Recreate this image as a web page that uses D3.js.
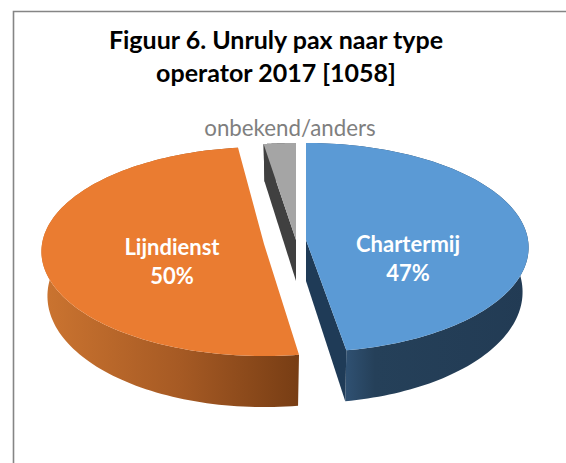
<!DOCTYPE html>
<html><head><meta charset="utf-8">
<script src="https://cdn.jsdelivr.net/npm/d3@7/dist/d3.min.js"></script>
<style>html,body{margin:0;padding:0;background:#fff}svg{display:block}</style>
</head><body><svg id="c" width="566" height="463"></svg>
<script>
const categories = ["Chartermij", "Lijndienst", "onbekend/anders"];
const values = [47.3, 50.2, 2.5];
const percentLabels = ["47%", "50%", ""];
const titleLines = ["Figuur 6. Unruly pax naar type", "operator 2017 [1058]"];

const topColors = ["#5b9ad5", "#ea7c31", "#a5a5a5"];
const centers = [[306, 240], [264, 244], [296, 240]];
const trimDeg = [[0, 0], [1.3, -1.8], [0, 0]];
const gradients = [
  [[347, "#2f5071"], [375, "#254059"], [530, "#223b54"]],
  [[44, "#cb7430"], [180, "#a65a24"], [300, "#773d14"]],
  [[250, "#404040"], [300, "#404040"]]
];
const cutColors = ["#1f3b57", "#773d14", "#404040"];

const rx = 222, ry = 104, k = 0.072;
function proj(c, a, bottom) {
  const u = Math.sin(a), v = -Math.cos(a), w = 1 - k * v;
  const shrink = bottom ? 0.973 : 1;
  return [c[0] + rx * shrink * u / w, c[1] + ry * v / w + (bottom ? 44 + 7 * v : 0)];
}
const apex = (c, bottom) => [c[0], c[1] + (bottom ? 41 : 0)];

const svg = d3.select("#c");
const defs = svg.append("defs");
const line = d3.line();
const pie = d3.pie().sort(null).value(d => d);
const arcs = pie(values).map((d, i) => ({
  startAngle: d.startAngle + trimDeg[i][0] * Math.PI / 180,
  endAngle: d.endAngle - trimDeg[i][1] * Math.PI / 180
}));
const samples = d => d3.range(0, 121).map(i => d.startAngle + (d.endAngle - d.startAngle) * i / 120);

gradients.forEach((g, i) => {
  const lg = defs.append("linearGradient").attr("id", "g" + i)
    .attr("gradientUnits", "userSpaceOnUse")
    .attr("x1", g[0][0]).attr("x2", g[g.length - 1][0]).attr("y1", 0).attr("y2", 0);
  g.forEach(s => lg.append("stop")
    .attr("offset", (s[0] - g[0][0]) / (g[g.length - 1][0] - g[0][0]))
    .attr("stop-color", s[1]));
});

// frame
svg.append("path").attr("d", "M566,11.5H13.5V463").attr("fill", "none")
  .attr("stroke", "#858585").attr("stroke-width", 1.6);

// draw back to front: grey, orange, blue
[2, 1, 0].forEach(i => {
  const d = arcs[i], c = centers[i], as = samples(d);
  const g = svg.append("g");
  // outer wall
  const top = as.map(a => proj(c, a, false));
  const bot = as.map(a => proj(c, a, true)).reverse();
  g.append("path").attr("d", line(top.concat(bot)) + "Z").attr("fill", `url(#g${i})`);
  // visible cut face
  if (i !== 1) {
    const cutA = i === 0 ? d.endAngle : d.startAngle;
    g.append("path").attr("d", line([apex(c, false), proj(c, cutA, false), proj(c, cutA, true), apex(c, true)]) + "Z")
      .attr("fill", cutColors[i]);
  }
  // top face
  g.append("path").attr("d", line([apex(c, false)].concat(top)) + "Z").attr("fill", topColors[i]);
});

const font = "Lato, 'Open Sans', sans-serif";
svg.selectAll("text.title").data(titleLines).join("text").attr("class", "title")
  .attr("x", 276).attr("y", (d, i) => 49 + i * 33).attr("text-anchor", "middle")
  .attr("font-family", font).attr("font-weight", 700).attr("font-size", 25).attr("fill", "#000").text(d => d);

svg.append("text").attr("x", 290).attr("y", 136).attr("text-anchor", "middle")
  .attr("font-family", font).attr("font-size", 22.3).attr("fill", "#7f7f7f").text(categories[2]);

const labelPos = [[408, 252, 281], [172, 255, 284]];
labelPos.forEach((p, i) => {
  svg.append("text").attr("x", p[0]).attr("y", p[1]).attr("text-anchor", "middle")
    .attr("font-family", font).attr("font-weight", 700).attr("font-size", 22).attr("fill", "#fff").text(categories[i]);
  svg.append("text").attr("x", p[0]).attr("y", p[2]).attr("text-anchor", "middle")
    .attr("font-family", font).attr("font-weight", 700).attr("font-size", 22).attr("fill", "#fff").text(percentLabels[i]);
});
</script></body></html>
